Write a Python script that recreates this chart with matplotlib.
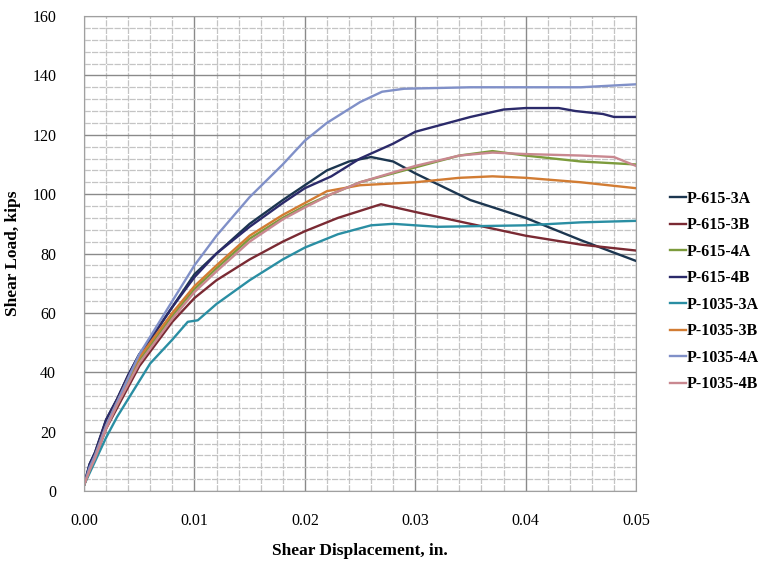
import numpy as np
import matplotlib.pyplot as plt
from matplotlib.ticker import MultipleLocator, FormatStrFormatter

# Shear load vs. shear displacement.
x_rise = [0, 0.0005, 0.001, 0.002, 0.003, 0.004, 0.005, 0.006, 0.008]

names = ['P-615-3A', 'P-615-3B', 'P-615-4A', 'P-615-4B',
         'P-1035-3A', 'P-1035-3B', 'P-1035-4A', 'P-1035-4B']

x_615_3A = x_rise + [0.010, 0.012, 0.015, 0.018, 0.020, 0.022, 0.024, 0.026, 0.028, 0.030, 0.035, 0.040, 0.045, 0.050]
y_615_3A = [2, 9, 13, 24, 31, 39, 46, 51, 62, 73, 80, 90, 98, 103, 108, 111, 112.5, 111, 107, 98, 92, 84.5, 77.5]

x_615_3B = x_rise + [0.010, 0.012, 0.015, 0.018, 0.020, 0.023, 0.0269, 0.030, 0.035, 0.040, 0.045, 0.050]
y_615_3B = [2, 7, 11, 21, 28, 35, 42, 47, 57, 65, 71, 78, 84, 87.5, 92, 96.6, 94, 90, 86, 83, 81]

x_615_4A = x_rise + [0.010, 0.012, 0.015, 0.018, 0.020, 0.0224, 0.025, 0.030, 0.034, 0.037, 0.040, 0.045, 0.050]
y_615_4A = [2, 7, 12, 22, 29, 37, 44, 49, 59, 68, 75, 85, 92, 96, 100, 104, 109, 113, 114.5, 113, 111, 110]

x_615_4B = x_rise + [0.010, 0.012, 0.015, 0.018, 0.020, 0.0224, 0.025, 0.028, 0.030, 0.033, 0.035, 0.038,
                     0.040, 0.043, 0.0445, 0.047, 0.048, 0.050]
y_615_4B = [2, 9, 13, 24, 31, 39, 46, 51, 62, 72, 80, 89, 97, 102, 106, 112, 117, 121, 124, 126, 128.5,
            129, 129, 128, 127, 126, 126]

x_1035_3A = x_rise + [0.0094, 0.0103, 0.012, 0.015, 0.018, 0.020, 0.023, 0.026, 0.028, 0.032, 0.040, 0.045, 0.050]
y_1035_3A = [2, 6, 10, 18, 25, 31, 37, 43, 51, 57, 57.5, 63, 71, 78, 82, 86.5, 89.5, 90, 89, 89.5, 90.5, 91]

x_1035_3B = x_rise + [0.010, 0.012, 0.015, 0.018, 0.020, 0.022, 0.025, 0.030, 0.034, 0.037, 0.040, 0.045, 0.050]
y_1035_3B = [2, 7, 12, 22, 30, 38, 45, 50, 60, 69, 76, 86, 93, 97, 101, 103, 104, 105.5, 106, 105.5, 104, 102]

x_1035_4A = x_rise + [0.010, 0.012, 0.015, 0.018, 0.020, 0.022, 0.025, 0.027, 0.029, 0.035, 0.045, 0.050]
y_1035_4A = [2, 8, 12, 22, 30, 38, 46, 52, 64, 76, 86, 99, 110, 118, 124, 131, 134.5, 135.5, 136, 136, 137]

x_1035_4B = x_rise + [0.010, 0.012, 0.015, 0.018, 0.020, 0.0224, 0.025, 0.030, 0.034, 0.037, 0.040, 0.045, 0.048, 0.050]
y_1035_4B = [2, 7, 11, 21, 29, 36, 43, 48, 58, 67, 74, 84, 91.5, 95.5, 100, 104, 109.5, 113, 114, 113.5, 113, 112.5, 109.5]

colors = ['#1c3650', '#7a2a33', '#7c9b3c', '#2b2a6a',
          '#2a8ea3', '#d27c33', '#8090c8', '#c98890']

xs = [x_615_3A, x_615_3B, x_615_4A, x_615_4B, x_1035_3A, x_1035_3B, x_1035_4A, x_1035_4B]
ys = [y_615_3A, y_615_3B, y_615_4A, y_615_4B, y_1035_3A, y_1035_3B, y_1035_4A, y_1035_4B]

plt.rcParams['font.family'] = ['Liberation Serif', 'DejaVu Serif']

fig = plt.figure(figsize=(7.78, 5.64), dpi=100)
ax = fig.add_axes([0.108, 0.1294, 0.7095, 0.8422])

for x, y, c, n in zip(xs, ys, colors, names):
    ax.plot(x, y, color=c, lw=1.7, label=n)

ax.set_xlim(0, 0.05)
ax.set_ylim(0, 160)
ax.xaxis.set_major_locator(MultipleLocator(0.01))
ax.xaxis.set_minor_locator(MultipleLocator(0.002))
ax.yaxis.set_major_locator(MultipleLocator(20))
ax.yaxis.set_minor_locator(MultipleLocator(4))
ax.xaxis.set_major_formatter(FormatStrFormatter('%.2f'))

ax.grid(which='major', color='#8a8a8a', lw=1.0)
ax.grid(which='minor', color='#c4c4c4', lw=0.9, linestyle=(0, (5, 1)))
ax.set_axisbelow(True)
ax.tick_params(which='both', length=0)
ax.tick_params(axis='y', pad=20, labelsize=11.5)
ax.tick_params(axis='x', pad=16, labelsize=11.5)
for s in ax.spines.values():
    s.set_color('#a0a0a0')

ax.set_xlabel('Shear Displacement, in.', fontsize=12.5, fontweight='bold', labelpad=10)
ax.set_ylabel('Shear Load, kips', fontsize=12.5, fontweight='bold', labelpad=8)

ax.legend(loc='center left', bbox_to_anchor=(1.035, 0.42), frameon=False,
          prop={'weight': 'bold', 'size': 11.5}, handlelength=1.0,
          handletextpad=0.08, labelspacing=0.66)

fig.savefig('out.png', dpi=100)
